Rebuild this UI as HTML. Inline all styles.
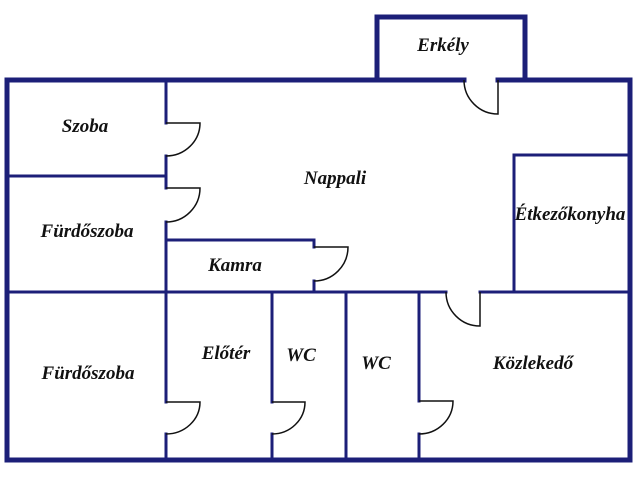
<!DOCTYPE html>
<html><head><style>
html,body{margin:0;padding:0;background:#fff;}
svg{display:block;}
text{font-family:"Liberation Serif",serif;font-weight:bold;font-style:italic;font-size:19px;fill:#111;text-anchor:middle;}
</style></head><body>
<svg width="640" height="480" viewBox="0 0 640 480">
<g stroke="#1c1f78" fill="none" stroke-linecap="square">
<path d="M7 80 H377 M377 80 V17 H525 V80 M498 80 H630 V460 H7 V80 M377 80 H464" stroke-width="5"/>
<g stroke-width="3">
<path d="M166 80 V123 M166 156 V188 M166 222 V402 M166 434 V460"/>
<path d="M7 176 H166"/>
<path d="M166 240 H314 V247 M314 281 V292"/>
<path d="M7 292 H446 M480 292 H630"/>
<path d="M514 292 V155 H630"/>
<path d="M272 292 V402 M272 434 V460"/>
<path d="M346 292 V460"/>
<path d="M419 292 V401 M419 434 V460"/>
</g>
</g>
<g stroke="#111" fill="none" stroke-width="1.5">
<path d="M166 123 H200 A34 33 0 0 1 166 156"/>
<path d="M166 188 H200 A34 34 0 0 1 166 222"/>
<path d="M314 247 H348 A34 34 0 0 1 314 281"/>
<path d="M166 402 H200 A34 32 0 0 1 166 434"/>
<path d="M272 402 H305 A33 32 0 0 1 272 434"/>
<path d="M419 401 H453 A34 33 0 0 1 419 434"/>
<path d="M464 80 A34 34 0 0 0 498 114 V80"/>
<path d="M446 292 A34 34 0 0 0 480 326 V292"/>
</g>
<text x="443" y="51">Erkély</text>
<text x="85" y="132">Szoba</text>
<text x="335" y="184">Nappali</text>
<text x="87" y="237">Fürdőszoba</text>
<text x="235" y="271">Kamra</text>
<text x="570" y="220">Étkezőkonyha</text>
<text x="88" y="379">Fürdőszoba</text>
<text x="226" y="359">Előtér</text>
<text x="301" y="361">WC</text>
<text x="376" y="369">WC</text>
<text x="533" y="369">Közlekedő</text>
</svg>
</body></html>
